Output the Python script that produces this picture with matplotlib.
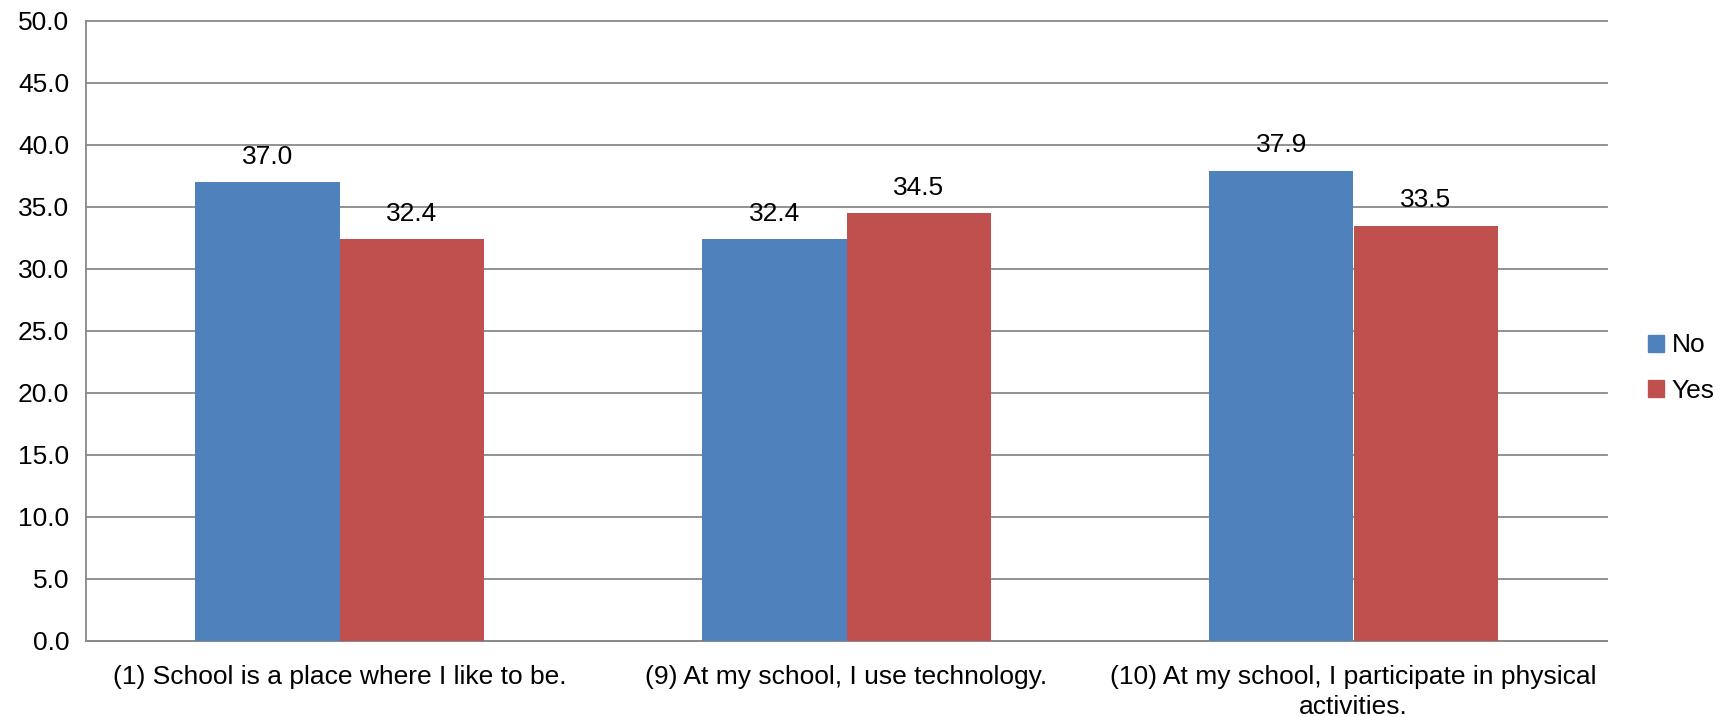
import matplotlib
matplotlib.use("Agg")
import matplotlib.pyplot as plt
import numpy as np
from matplotlib.patches import Patch

categories = ["(1) School is a place where I like to be.",
              "(9) At my school, I use technology.",
              "(10) At my school, I participate in physical\nactivities."]
no_vals = [37.0, 32.4, 37.9]
yes_vals = [32.4, 34.5, 33.5]
series = ["No", "Yes"]
colors = ["#4F81BD", "#C0504D"]

plt.rcParams['font.family'] = ['Liberation Sans', 'DejaVu Sans']
FS = 19

fig = plt.figure(figsize=(17.32, 7.17), dpi=100)
ax = fig.add_axes([86/1732, 1-641/717, (1607-86)/1732, (641-21)/717])

x = np.arange(len(categories))
w = 0.285
b1 = ax.bar(x - w/2, no_vals, w, color=colors[0], zorder=3)
b2 = ax.bar(x + w/2, yes_vals, w, color=colors[1], zorder=3)
for bars, vals in ((b1, no_vals), (b2, yes_vals)):
    for r, v in zip(bars, vals):
        ax.text(r.get_x() + r.get_width()/2, v + 1.1, f"{v:.1f}", ha="center", va="bottom", fontsize=FS)

ax.set_xlim(-0.5, 2.5)
ax.set_ylim(0, 50)
ax.set_yticks(np.arange(0, 50.1, 5))
ax.set_yticklabels([f"{t:.1f}" for t in np.arange(0, 50.1, 5)], fontsize=FS)
ax.set_xticks(x)
ax.set_xticklabels(categories, fontsize=FS, linespacing=1.35)
ax.tick_params(axis='x', length=0, pad=17)
ax.tick_params(axis='y', length=0, pad=12)
ax.grid(axis='y', color='#898989', linewidth=1.3, zorder=0)
for gl in ax.get_ygridlines():
    gl.set_clip_on(False)
for s in ['top', 'right']:
    ax.spines[s].set_visible(False)
for s in ['left', 'bottom']:
    ax.spines[s].set_color('#898989')
    ax.spines[s].set_linewidth(1.3)

handles = [Patch(color=c, label=l) for c, l in zip(colors, series)]
fig.legend(handles=handles, loc='center left', bbox_to_anchor=(1648/1732, 1-368/717),
           frameon=False, fontsize=FS, handlelength=0.6, handleheight=0.6,
           handletextpad=0.3, labelspacing=0.8, borderpad=0, borderaxespad=0)

fig.savefig("out.png", dpi=100)
